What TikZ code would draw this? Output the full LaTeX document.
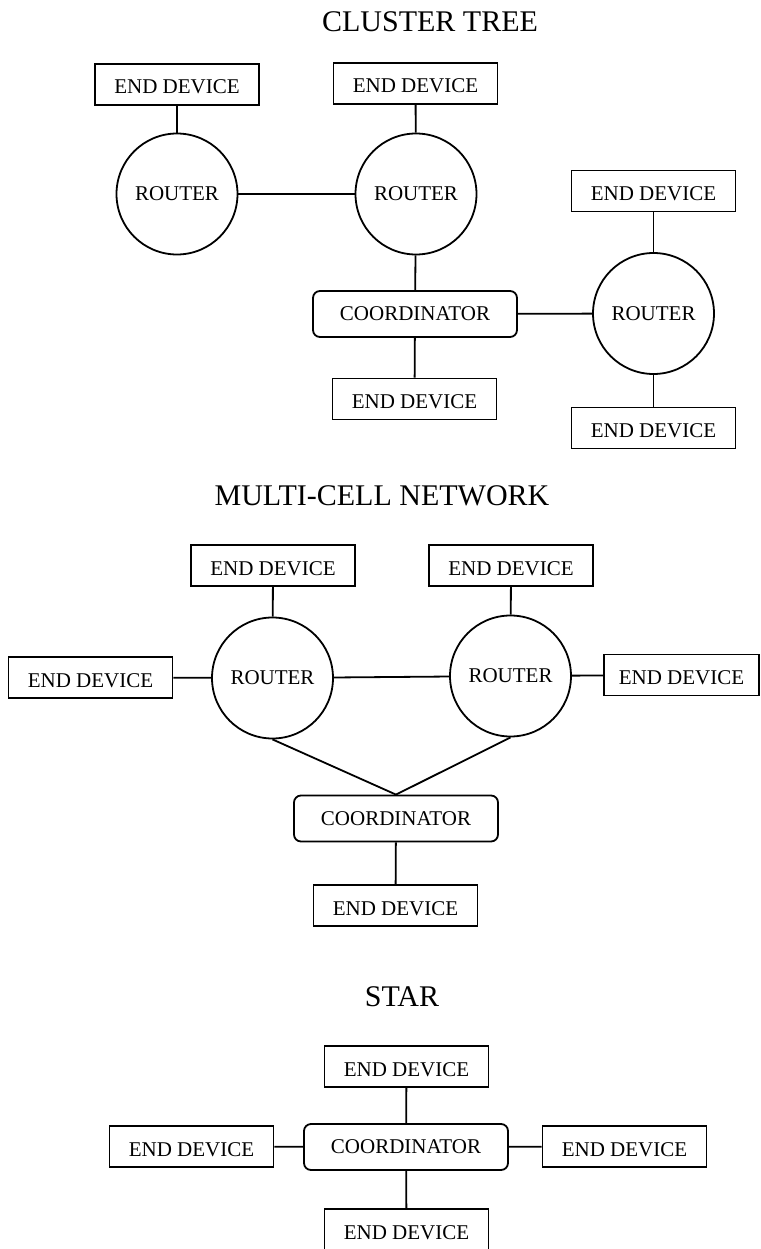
\documentclass[tikz,border=0pt]{standalone}
\usepackage{fontspec}
\setmainfont{Liberation Serif}
\usepackage{tikz}
\usetikzlibrary{positioning}

\begin{document}
\begin{tikzpicture}[x=1pt, y=-1pt, line width=1.8pt,
    font=\fontsize{21}{25}\selectfont,
    enddev/.style={draw, rectangle, minimum width=164pt, minimum height=41pt, inner sep=0pt, text height=19pt, text depth=0pt},
    router/.style={draw, circle, minimum size=121pt, inner sep=0pt},
    coord/.style={draw, rectangle, rounded corners=7pt, minimum width=204pt, minimum height=46pt, inner sep=0pt},
    heading/.style={font=\fontsize{30}{36}\selectfont}]
    \useasboundingbox (0,0) rectangle (760,1249);

    % cluster tree
    \node[heading] (ctitle) at (430,22) {CLUSTER TREE};
    \node[enddev] (ced1) at (177,84.5) {END DEVICE};
    \node[enddev] (ced2) at (415.5,83.5) {END DEVICE};
    \node[router] (crt1) at (177,194) {ROUTER};
    \node[router] (crt2) at (416,194) {ROUTER};
    \node[coord] (cco) at (415,314) {COORDINATOR};
    \node[enddev] (ced5) at (414.5,399) {END DEVICE};
    \node[router] (crt3) at (653.5,313.5) {ROUTER};
    \node[enddev] (ced3) at (653.5,191) {END DEVICE};
    \node[enddev] (ced4) at (653.5,428) {END DEVICE};
    \draw (ced1) -- (crt1);
    \draw (ced2) -- (crt2);
    \draw (crt1) -- (crt2);
    \draw (crt2) -- (cco);
    \draw (cco) -- (ced5);
    \draw (cco) -- (crt3);
    \draw (ced3) -- (crt3);
    \draw (crt3) -- (ced4);

    % multi-cell network
    \node[heading] (mtitle) at (382,496) {MULTI-CELL NETWORK};
    \node[enddev] (med1) at (273,565.5) {END DEVICE};
    \node[enddev] (med2) at (511,565.5) {END DEVICE};
    \node[router] (mrt1) at (272.5,678) {ROUTER};
    \node[router] (mrt2) at (510.5,676) {ROUTER};
    \node[enddev] (med3) at (90.5,677.5) {END DEVICE};
    \node[enddev, minimum width=155pt] (med4) at (681.5,675) {END DEVICE};
    \node[coord] (mco) at (396,818.5) {COORDINATOR};
    \node[enddev] (med5) at (395.5,905.5) {END DEVICE};
    \draw (med1) -- (mrt1);
    \draw (med2) -- (mrt2);
    \draw (med3) -- (mrt1);
    \draw (mrt2) -- (med4);
    \draw (mrt1) -- (mrt2);
    \draw (mrt1.south) -- (mco.north);
    \draw (mrt2.south) -- (mco.north);
    \draw (mco) -- (med5);

    % star
    \node[heading] (stitle) at (402,997) {STAR};
    \node[coord] (sco) at (406,1147) {COORDINATOR};
    \node[enddev] (sed1) at (406.5,1066.5) {END DEVICE};
    \node[enddev] (sed2) at (191.5,1146.5) {END DEVICE};
    \node[enddev] (sed3) at (624.5,1146.5) {END DEVICE};
    \node[enddev] (sed4) at (406.5,1229.5) {END DEVICE};
    \draw (sed1) -- (sco);
    \draw (sed2) -- (sco);
    \draw (sco) -- (sed3);
    \draw (sco) -- (sed4);
\end{tikzpicture}
\end{document}
